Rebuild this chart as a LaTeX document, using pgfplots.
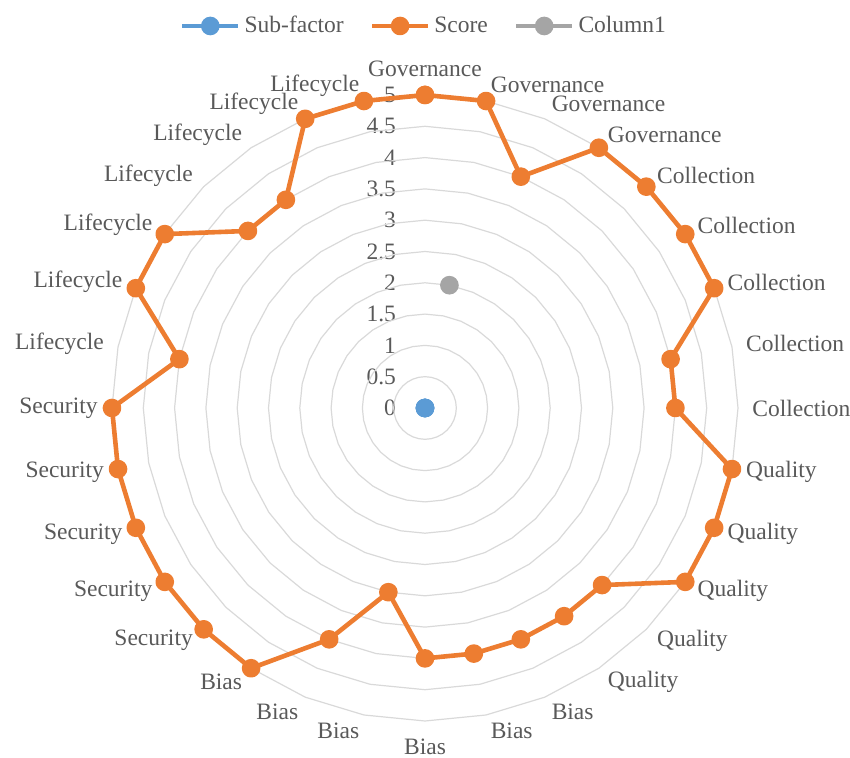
\documentclass[border=0pt]{standalone}
\usepackage{fontspec}
\setmainfont{Liberation Serif}
\usepackage{pgfplots}
\pgfplotsset{compat=1.18}
\usepgfplotslibrary{polar}
\definecolor{cOrange}{HTML}{ED7D31}
\definecolor{cBlue}{HTML}{5B9BD5}
\definecolor{cGray}{HTML}{A5A5A5}
\definecolor{cGrid}{HTML}{D9D9D9}
\definecolor{cText}{HTML}{595959}
\begin{document}
\begin{tikzpicture}
\useasboundingbox (0,0) rectangle (425pt,379pt);
\begin{polaraxis}[
  at={(212.5pt,175pt)}, anchor=center,
  scale only axis, width=313pt, height=313pt,
  xmin=90, xmax=450, ymin=0, ymax=5,
  xtick={90,101.25,112.5,123.75,135,146.25,157.5,168.75,180,191.25,202.5,213.75,225,236.25,247.5,258.75,270,281.25,292.5,303.75,315,326.25,337.5,348.75,360,371.25,382.5,393.75,405,416.25,427.5,438.75},
  xticklabels={Governance,Lifecycle,Lifecycle,Lifecycle,Lifecycle,Lifecycle,Lifecycle,Lifecycle,Security,Security,Security,Security,Security,Bias,Bias,Bias,Bias,Bias,Bias,Quality,Quality,Quality,Quality,Quality,Collection,Collection,Collection,Collection,Collection,Governance,Governance,Governance},
  ytick={0,0.5,1,1.5,2,2.5,3,3.5,4,4.5,5},
  yticklabels={0,0.5,1,1.5,2,2.5,3,3.5,4,4.5,5},
  ymajorgrids=false, xmajorgrids=false,
  x axis line style={draw=none},
  y axis line style={draw=none},
  major tick length=0pt,
  ticklabel style={font=\fontsize{11.75}{14}\selectfont, text=cText},
  /pgf/number format/assume math mode=true,
  yticklabel style={anchor=east, xshift=-11pt},
  xticklabel style={inner sep=1pt,
    /utils/exec={\pgfmathtruncatemacro\myanc{ifthenelse(abs(cos(\tick))<0.01,ifthenelse(sin(\tick)>0,270,90),ifthenelse(cos(\tick)>0,180,0))}},
    anchor=\myanc, xshift={6*cos(\tick)}, yshift={8*sin(\tick)}},
  clip=false,
  legend columns=3,
  legend style={at={(0.5,1)}, anchor=center, yshift=34.5pt, draw=none, fill=none,
    font=\fontsize{11.75}{14}\selectfont, text=cText,
    /tikz/every even column/.append style={column sep=11pt}},
  legend image code/.code={\draw[#1, mark repeat=2, mark phase=2] plot coordinates {(0pt,0pt) (14pt,0pt) (28pt,0pt)};},
]
\pgfplotsinvokeforeach{0.5,1,1.5,2,2.5,3,3.5,4,4.5,5}{
\addplot[cGrid, line width=0.6pt, mark=none, forget plot] coordinates {
  (90,#1) (101.25,#1) (112.5,#1) (123.75,#1) (135,#1) (146.25,#1) (157.5,#1) (168.75,#1)
  (180,#1) (191.25,#1) (202.5,#1) (213.75,#1) (225,#1) (236.25,#1) (247.5,#1) (258.75,#1)
  (270,#1) (281.25,#1) (292.5,#1) (303.75,#1) (315,#1) (326.25,#1) (337.5,#1) (348.75,#1)
  (360,#1) (371.25,#1) (382.5,#1) (393.75,#1) (405,#1) (416.25,#1) (427.5,#1) (438.75,#1)
  (450,#1)};
}
\addplot[color=cBlue, line width=2.3pt, mark=*, mark size=3.5pt, mark options={fill=cBlue, draw=none}]
  coordinates {(90,0) (101.25,0) (112.5,0) (123.75,0)};
\addlegendentry{Sub-factor}
\addplot[color=cOrange, line width=2.3pt, line join=round, mark=*, mark size=3.5pt, mark options={fill=cOrange, draw=none}]
  coordinates {
  (450,5) (438.75,5) (427.5,4) (416.25,5) (405,5) (393.75,5) (382.5,5) (371.25,4)
  (360,4) (348.75,5) (337.5,5) (326.25,5) (315,4) (303.75,4) (292.5,4) (281.25,4)
  (270,4) (258.75,3) (247.5,4) (236.25,5) (225,5) (213.75,5) (202.5,5) (191.25,5)
  (180,5) (168.75,4) (157.5,5) (146.25,5) (135,4) (123.75,4) (112.5,5) (101.25,5)
  (90,5)};
\addlegendentry{Score}
\addplot[color=cGray, line width=2.3pt, mark=*, mark size=3.5pt, mark options={fill=cGray, draw=none}]
  coordinates {(438.75,2)};
\addlegendentry{Column1}
\end{polaraxis}
\end{tikzpicture}
\end{document}
